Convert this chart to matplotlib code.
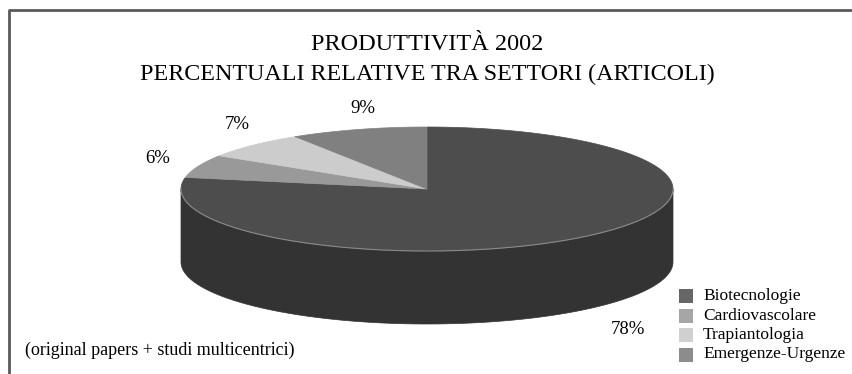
import numpy as np
import matplotlib
matplotlib.use("Agg")
import matplotlib.pyplot as plt
from matplotlib.patches import Polygon, Rectangle

# Data
sectors = ["Biotecnologie", "Cardiovascolare", "Trapiantologia", "Emergenze-Urgenze"]
shares = [78, 6, 7, 9]
pct_labels = ["78%", "6%", "7%", "9%"]
top_colors = ["#4d4d4d", "#999999", "#cccccc", "#808080"]
side_colors = ["#333333", "#6b6b6b", "#8f8f8f", "#5a5a5a"]
legend_colors = ["#666666", "#a6a6a6", "#d0d0d0", "#8c8c8c"]
# label nudges (px) from the rim point at each slice's mid angle
label_nudge = [(44, 20), (-41, -8), (-16, -21), (5, -21)]

W, H = 853, 374
plt.rcParams["font.family"] = ["Liberation Serif", "DejaVu Serif"]

fig = plt.figure(figsize=(W / 100, H / 100), dpi=100)
ax = fig.add_axes([0, 0, 1, 1])
ax.set_xlim(0, W)
ax.set_ylim(H, 0)
ax.axis("off")

# frame (left + top edges only visible)
ax.plot([9, 9, W + 5], [H + 5, 10, 10], color="#5a5a5a", lw=2, solid_capstyle="butt")

# pie geometry in pixels
cx, cy, a, b, depth = 427, 189, 246, 62, 73


def ell(theta):
    return cx + a * np.cos(theta), cy - b * np.sin(theta)


fracs = np.array(shares, dtype=float) / sum(shares)
# start at 12 o'clock, go clockwise
ends = np.deg2rad(90) - 2 * np.pi * np.cumsum(fracs)
starts = np.concatenate([[np.deg2rad(90)], ends[:-1]])

# side faces (front half only)
for s, e, col in zip(starts, ends, side_colors):
    t = np.linspace(e, s, 400)
    front = np.sin(t) < 0
    if not front.any():
        continue
    t = t[front]
    x, y = ell(t)
    xs = np.concatenate([x, x[::-1]])
    ys = np.concatenate([y, y[::-1] + depth])
    ax.add_patch(Polygon(np.column_stack([xs, ys]), closed=True,
                         facecolor=col, edgecolor=col, lw=0.5))

# top faces
for s, e, col in zip(starts, ends, top_colors):
    t = np.linspace(s, e, 400)
    x, y = ell(t)
    pts = np.column_stack([np.concatenate([[cx], x]), np.concatenate([[cy], y])])
    ax.add_patch(Polygon(pts, closed=True, facecolor=col, edgecolor=col, lw=0.5))

# thin highlight on front rim
t = np.linspace(np.pi, 2 * np.pi, 300)
x, y = ell(t)
ax.plot(x, y, color="#8a8a8a", lw=0.8)

# percentage labels
for s, e, lab, (dx, dy) in zip(starts, ends, pct_labels, label_nudge):
    m = (s + e) / 2
    x, y = ell(m)
    if np.sin(m) < 0:
        y += depth
    ax.text(x + dx, y + dy, lab, fontsize=13.5, ha="center", va="center")

# title
ax.text(427, 50, "PRODUTTIVITÀ 2002", fontsize=17.5, ha="center", va="baseline")
ax.text(427, 80, "PERCENTUALI RELATIVE TRA SETTORI (ARTICOLI)", fontsize=17.3,
        ha="center", va="baseline")

# footnote
ax.text(25, 350, "(original papers + studi multicentrici)", fontsize=13,
        ha="left", va="center")

# legend drawn by hand
for i, (name, col) in enumerate(zip(sectors, legend_colors)):
    yc = 296 + i * 19.5
    ax.add_patch(Rectangle((679, yc - 7), 14, 14, facecolor=col, edgecolor="none"))
    ax.text(703, yc, name, fontsize=12.5, ha="left", va="center")

fig.savefig("out.png", dpi=100)
